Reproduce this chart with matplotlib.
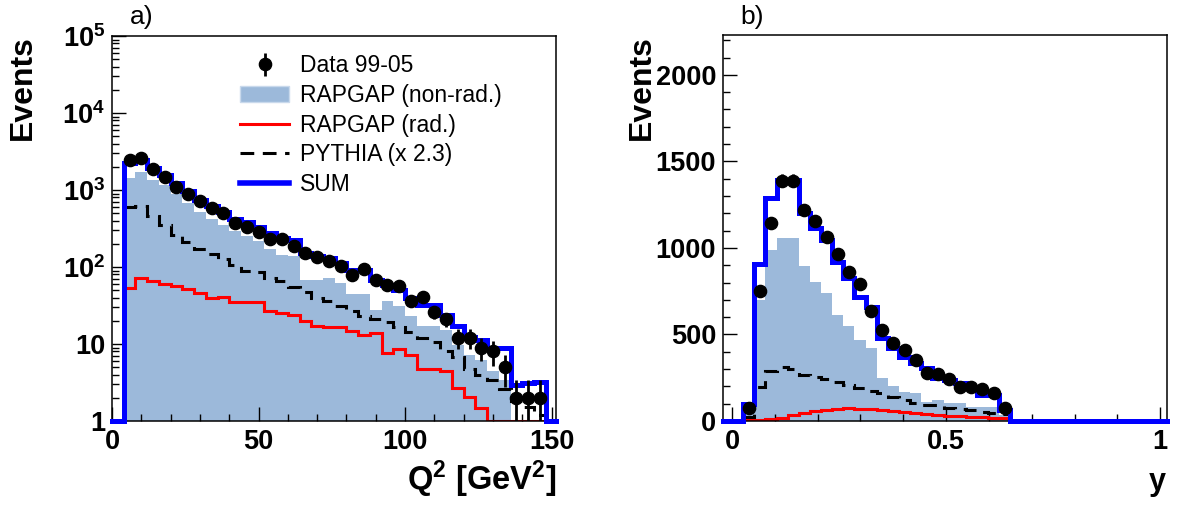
import numpy as np
import matplotlib
matplotlib.use('Agg')
import matplotlib.pyplot as plt
from matplotlib.lines import Line2D
from matplotlib.patches import Patch

plt.rcParams['font.family'] = ['Liberation Sans', 'DejaVu Sans']
plt.rcParams['mathtext.fontset'] = 'custom'
plt.rcParams['mathtext.rm'] = 'Liberation Sans:bold'
plt.rcParams['mathtext.bf'] = 'Liberation Sans:bold'
plt.rcParams['mathtext.it'] = 'Liberation Sans:bold:italic'

# ---------------- data: panel a) Q^2 ----------------
q2_edges = np.arange(4, 152, 4)  # 4 ... 148 GeV^2, 36 bins
data_q2 = [2480, 2610, 1880, 1480, 1110, 890, 710, 585, 510, 372, 327, 285,
           231, 231, 189, 154, 133, 120, 102, 79, 95, 68, 59, 57,
           36, 41, 26, 21, 12, 12, 9, 8, 5, 2, 2, 2]
nonrad_q2 = [1450, 1700, 1350, 1150, 900, 680, 520, 420, 350, 290, 255, 215,
             171, 144, 140, 68, 68, 71, 62, 45, 45, 28, 36, 31,
             23, 17, 17, 15, 9.7, 7.2, 6.2, 4.5, 3.4, 0, 0, 0]
rad_q2 = [53, 72, 65, 60, 56, 52, 46, 39.5, 41, 35.6, 35, 35,
          26.5, 25, 24, 20, 17, 16.5, 16.5, 14.9, 13.1, 13.8, 7.6, 8.6,
          7.2, 4.7, 4.7, 4.4, 2.7, 2.07, 1.46, 0, 0, 0, 0, 0]
pythia_q2 = [594, 625, 454, 347, 262, 211, 171, 147, 127, 105, 89, 85,
             73, 65, 55, 47, 40, 36, 31, 27, 23, 21, 19.5, 16.8,
             14.5, 11.9, 10.7, 8.0, 6.7, 4.8, 4.0, 3.4, 2.6, 1.8, 1.5, 1.2]
sum_q2 = [2250, 2450, 1930, 1580, 1230, 960, 750, 612, 520, 420, 380, 330,
          275, 240, 225, 150, 140, 131, 112, 92, 92, 68, 59, 50,
          39, 32, 32, 24, 17, 12.3, 11.3, 8.8, 8.8, 2.9, 3.1, 3.2]

# ---------------- data: panel b) y ----------------
y_edges = np.round(np.linspace(0.026, 0.65, 25), 3)  # 24 bins
data_y = [73, 751, 1143, 1389, 1389, 1220, 1156, 1062, 965, 863, 790, 638,
          526, 451, 410, 353, 276, 270, 241, 198, 195, 185, 164, 73]
nonrad_y = [60, 699, 988, 1060, 1060, 896, 805, 738, 613, 551, 468, 420,
            250, 205, 169, 160, 112, 121, 102, 102, 83, 83, 83, 35]
rad_y = [4, 6, 12, 18, 32, 48, 58, 65, 71, 73, 72, 68,
         62, 55, 50, 45, 40, 36, 31, 28, 25, 22, 19, 15]
pythia_y = [25, 198, 289, 314, 300, 266, 256, 241, 227, 210, 190, 173,
            160, 140, 121, 102, 95, 92, 77, 70, 64, 54, 48, 40]
sum_y = [96, 906, 1287, 1393, 1393, 1204, 1114, 1046, 921, 825, 719, 661,
         478, 420, 372, 333, 304, 247, 237, 218, 189, 150, 150, 62]

legend_labels = ['Data 99-05', 'RAPGAP (non-rad.)', 'RAPGAP (rad.)',
                 'PYTHIA (x 2.3)', 'SUM']

FILL = '#9cb9da'
BLUE = '#0000ff'
RED = '#ff0000'
DASH = (0, (4.5, 2.8))
TICKFS = 19.5

W, H = 1177, 507
fig = plt.figure(figsize=(W / 100, H / 100), dpi=100)
axL = fig.add_axes([112 / W, 1 - 421 / H, 444 / W, 385 / H])
axR = fig.add_axes([723 / W, 1 - 421 / H, 444 / W, 386 / H])


def centers(edges):
    e = np.asarray(edges, dtype=float)
    return 0.5 * (e[:-1] + e[1:])


# ---------------- panel a ----------------
axL.set_yscale('log')
axL.set_xlim(0, 151.5)
axL.set_ylim(1, 1e5)
axL.stairs(nonrad_q2, q2_edges, fill=True, baseline=1e-3, color=FILL, zorder=1)
axL.stairs(np.clip(rad_q2, 1, None), q2_edges, baseline=None, color=RED, lw=2.2, zorder=2)
axL.stairs(pythia_q2, q2_edges, baseline=None, color='black', lw=2.2, linestyle=DASH, zorder=3)
axL.stairs(sum_q2, q2_edges, baseline=1, color=BLUE, lw=3.6, zorder=4)
axL.plot([0, q2_edges[0]], [1, 1], color=BLUE, lw=3.6, clip_on=False, zorder=4)
axL.plot([q2_edges[-1], 151.5], [1, 1], color=BLUE, lw=3.6, clip_on=False, zorder=4)
d = np.asarray(data_q2, dtype=float)
eb = axL.errorbar(centers(q2_edges), d, yerr=np.sqrt(d), fmt='o', color='black',
                  ms=8.8, elinewidth=2, capsize=0, zorder=5)

axL.set_xticks([0, 50, 100, 150], ['0', '50', '100', '150'], fontweight='bold')
axL.set_xticks(np.arange(0, 151, 10), minor=True)
ymaj = [1, 10, 100, 1e3, 1e4, 1e5]
axL.set_yticks(ymaj, ['1', '10', r'$\mathbf{10^{2}}$', r'$\mathbf{10^{3}}$',
                      r'$\mathbf{10^{4}}$', r'$\mathbf{10^{5}}$'], fontweight='bold')
yminor = [m * 10 ** p for p in range(0, 5) for m in range(2, 10)]
axL.set_yticks(yminor, minor=True)
axL.set_yticklabels([], minor=True)

handles = [eb, Patch(facecolor=FILL, edgecolor='#c9d9ec'),
           Line2D([], [], color=RED, lw=2.2),
           Line2D([], [], color='black', lw=2.2, linestyle=DASH),
           Line2D([], [], color=BLUE, lw=4)]
axL.legend(handles, legend_labels, loc='upper left', bbox_to_anchor=(0.288, 0.952),
           frameon=False, fontsize=16.5, handlelength=2.15, handletextpad=0.48,
           labelspacing=0.29, borderpad=0, borderaxespad=0)

# ---------------- panel b ----------------
axR.set_xlim(-0.021, 1.016)
axR.set_ylim(0, 2230)
axR.stairs(nonrad_y, y_edges, fill=True, baseline=0, color=FILL, zorder=1)
axR.stairs(rad_y, y_edges, baseline=None, color=RED, lw=2.2, zorder=2)
axR.stairs(pythia_y, y_edges, baseline=None, color='black', lw=2.2, linestyle=DASH, zorder=3)
axR.stairs(sum_y, y_edges, baseline=0, color=BLUE, lw=3.6, zorder=4)
axR.plot([-0.021, y_edges[0]], [0, 0], color=BLUE, lw=3.6, clip_on=False, zorder=4)
axR.plot([y_edges[-1], 1.016], [0, 0], color=BLUE, lw=3.6, clip_on=False, zorder=4)
d = np.asarray(data_y, dtype=float)
axR.errorbar(centers(y_edges), d, yerr=np.sqrt(d), fmt='o', color='black',
             ms=8.8, elinewidth=2, capsize=0, zorder=5)
axR.set_xticks([0, 0.5, 1], ['0', '0.5', '1'], fontweight='bold')
axR.set_xticks(np.arange(0, 1.01, 0.1), minor=True)
axR.set_yticks([0, 500, 1000, 1500, 2000], ['0', '500', '1000', '1500', '2000'],
               fontweight='bold')
axR.set_yticks(np.arange(0, 2201, 100), minor=True)

for ax in (axL, axR):
    ax.tick_params(which='both', direction='in', top=False, right=False,
                   labelsize=TICKFS, width=1.0)
    ax.tick_params(which='major', length=10)
    ax.tick_params(which='minor', length=5)
    ax.tick_params(axis='y', pad=5)
    ax.tick_params(axis='x', pad=6)
    for s in ax.spines.values():
        s.set_linewidth(1.1)

# ---------------- titles ----------------
fig.text(23 / W, 1 - 35 / H, 'Events', rotation=90, ha='center', va='top',
         fontsize=23, fontweight='bold')
fig.text(642 / W, 1 - 35 / H, 'Events', rotation=90, ha='center', va='top',
         fontsize=23, fontweight='bold')
fig.text(557 / W, 1 - 490 / H, r'$\mathbf{Q^{2}}$ [GeV$\mathbf{^{2}}$]', ha='right',
         va='baseline', fontsize=23.5, fontweight='bold')
fig.text(1166 / W, 1 - 490 / H, 'y', ha='right', va='baseline',
         fontsize=22, fontweight='bold')
fig.text(130 / W, 1 - 24 / H, 'a)', ha='left', va='baseline', fontsize=19)
fig.text(740 / W, 1 - 24 / H, 'b)', ha='left', va='baseline', fontsize=19)

fig.savefig('out.png', dpi=100)
